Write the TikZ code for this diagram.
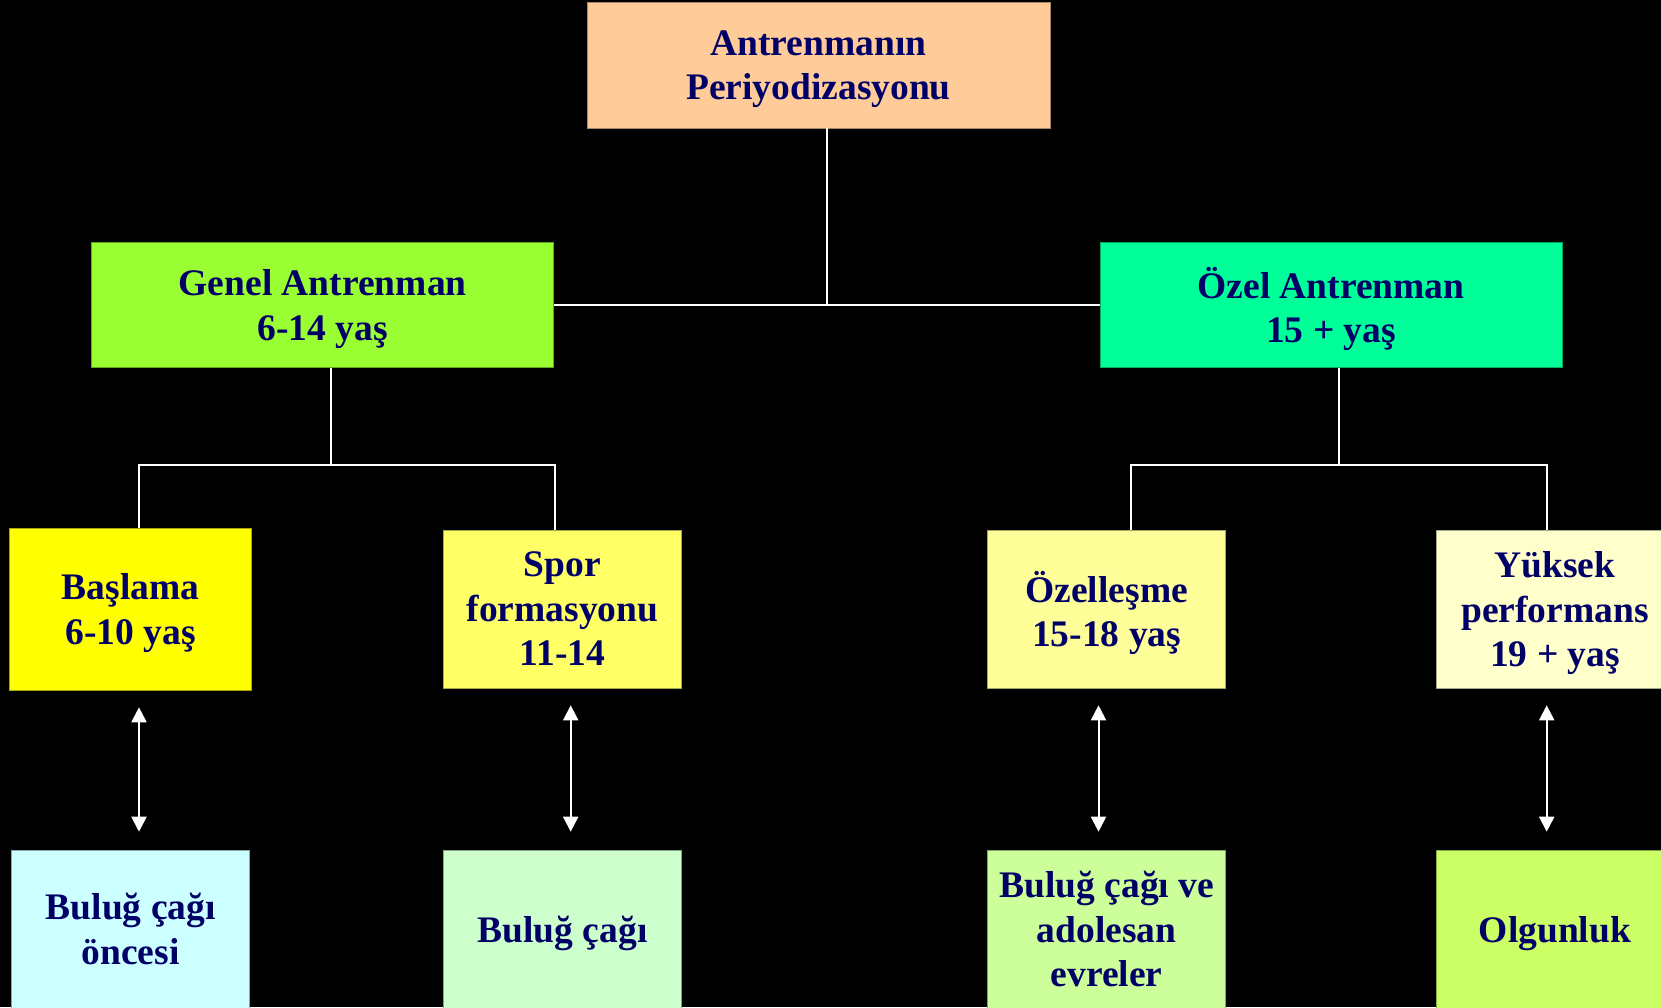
\documentclass[tikz,border=0pt]{standalone}
\usepackage{fontspec}
\setmainfont{Liberation Serif}
\usetikzlibrary{arrows.meta}

\definecolor{ink}{HTML}{000066}
\definecolor{cPeach}{HTML}{FFCC99}
\definecolor{cLime}{HTML}{99FF33}
\definecolor{cMint}{HTML}{00FF99}
\definecolor{cYellow}{HTML}{FFFF00}
\definecolor{cYellowB}{HTML}{FFFF66}
\definecolor{cYellowC}{HTML}{FFFF99}
\definecolor{cCream}{HTML}{FFFFCC}
\definecolor{cIce}{HTML}{CCFFFF}
\definecolor{cPaleGreen}{HTML}{CCFFCC}
\definecolor{cPaleLime}{HTML}{CCFF99}
\definecolor{cLimeB}{HTML}{CCFF66}

\tikzset{
  box/.style={rectangle, fill=#1, draw=#1!65!black, line width=0.6pt,
    text=ink, align=center, inner sep=0pt, text depth=0pt,
    font=\bfseries\fontsize{37.5}{44.5}\selectfont},
  wide/.style={minimum width=462pt, minimum height=125pt},
  small/.style={minimum width=238pt, minimum height=158pt},
  link/.style={draw=white, line width=1.6pt},
  dbl/.style={draw=white, line width=2pt,
    {Triangle[width=15pt,length=15pt]}-{Triangle[width=15pt,length=15pt]},
    shorten <=17pt, shorten >=18pt}
}

\begin{document}
\begin{tikzpicture}[x=1pt, y=-1pt]
  % page and black background
  \fill[black] (0,0) rectangle (1661,1007);
  \useasboundingbox (0,0) rectangle (1661,1007);
  \clip (0,0) rectangle (1661,1007);

  % top level
  \node[box=cPeach, minimum width=463pt, minimum height=126pt] (top) at (818.5,65)
    {Antrenmanın\\Periyodizasyonu};

  % second level
  \node[box=cLime, wide] (genel) at (322.7,305) {Genel Antrenman\\6-14 yaş};
  \node[box=cMint, wide] (ozel)  at (1331,305)  {Özel Antrenman\\15 + yaş};

  % stages
  \node[box=cYellow, minimum width=242pt, minimum height=162pt] (baslama) at (130.5,609)
    {Başlama\\6-10 yaş};
  \node[box=cYellowB, small] (spor)   at (562.5,609)  {Spor\\formasyonu\\11-14};
  \node[box=cYellowC, small] (ozell)  at (1106.7,609) {Özelleşme\\15-18 yaş};
  \node[box=cCream,   small] (yuksek) at (1555,609)   {Yüksek\\performans\\19 + yaş};

  % growth phases
  \node[box=cIce,       small] (b1) at (130.7,929)  {Buluğ çağı\\öncesi};
  \node[box=cPaleGreen, small] (b2) at (562.5,929)  {Buluğ çağı};
  \node[box=cPaleLime,  small] (b3) at (1106.7,929) {Buluğ çağı ve\\adolesan\\evreler};
  \node[box=cLimeB,     small] (b4) at (1555,929)   {Olgunluk};

  % joints of the tree lines
  \coordinate (t0) at ([xshift=8.5pt]top.south);
  \coordinate (g0) at ([xshift=8pt]genel.south);
  \coordinate (o0) at ([xshift=8pt]ozel.south);
  \coordinate (gb) at ([yshift=-97pt]g0);
  \coordinate (ob) at ([yshift=-97pt]o0);
  \coordinate (c1) at ([xshift=8.5pt]baslama.north);
  \coordinate (c2) at ([xshift=-7.5pt]spor.north);
  \coordinate (c3) at ([xshift=24.3pt]ozell.north);
  \coordinate (c4) at ([xshift=-8.3pt]yuksek.north);

  % tree lines
  \draw[link] (t0) -- (t0 |- genel.east);
  \draw[link] (genel.east) -- (ozel.west);
  \draw[link] (g0) -- (gb);
  \draw[link] (c1) -- (c1 |- gb) -- (c2 |- gb) -- (c2);
  \draw[link] (o0) -- (ob);
  \draw[link] (c3) -- (c3 |- ob) -- (c4 |- ob) -- (c4);

  % two-way arrows between stages and phases
  \coordinate (a1) at ([xshift=8.5pt]baslama.south);
  \coordinate (a2) at ([xshift=8.2pt]spor.south);
  \coordinate (a3) at ([xshift=-8.2pt]ozell.south);
  \coordinate (a4) at ([xshift=-8.3pt]yuksek.south);
  \draw[dbl] (a1) -- (a1 |- b1.north);
  \draw[dbl] (a2) -- (a2 |- b2.north);
  \draw[dbl] (a3) -- (a3 |- b3.north);
  \draw[dbl] (a4) -- (a4 |- b4.north);
\end{tikzpicture}
\end{document}
